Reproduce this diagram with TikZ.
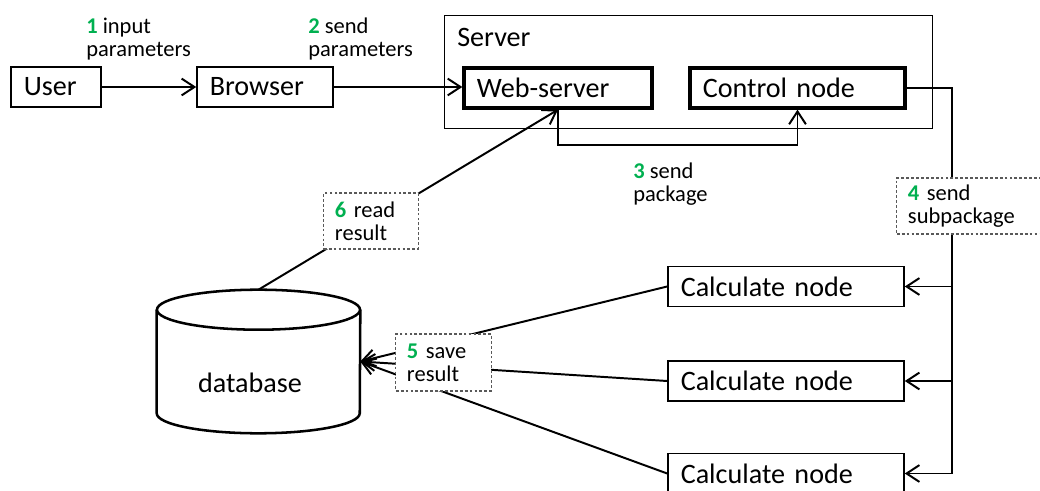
\documentclass[tikz,border=0pt]{standalone}
\usepackage{fontspec}
\setmainfont{Carlito}
\usepackage{xcolor}
\usepackage{tikz}
\usetikzlibrary{positioning,calc,arrows.meta}
\definecolor{stepgreen}{HTML}{00B050}

\tikzset{
    blk/.style={draw, line width=1.1pt, minimum height=1cm, inner xsep=0.32cm, align=left, font=\fontsize{20}{24}\selectfont},
    bold blk/.style={blk, line width=2.4pt},
    tag/.style={draw=black!65, dash pattern=on 2pt off 1.5pt, line width=0.8pt, fill=white, align=left, inner xsep=0.28cm, minimum height=1.4cm, font=\fontsize{16}{16.5}\selectfont},
    note/.style={anchor=west, align=left, inner sep=0pt, font=\fontsize{16}{16.5}\selectfont},
    arr/.style={-{Straight Barb[length=3.2mm,width=4.2mm]}, line width=1.4pt},
    wire/.style={line width=1.4pt}
}

\begin{document}
\begin{tikzpicture}[x=0.025cm, y=-0.025cm]
    \useasboundingbox (0,0) rectangle (1040,491);

    % Server frame
    \node[draw, line width=0.7pt, minimum width=12.175cm, minimum height=2.8cm] (Server) at (688.5,72) {};
    \node[anchor=west, inner sep=0pt, font=\fontsize{20}{24}\selectfont] (ServerName) at (457,37) {Server};

    % Top row
    \node[blk, text width=1.61cm] (User) at (56,87) {User};
    \node[blk, text width=2.76cm] (Browser) at (265,87) {Browser};
    \node[bold blk, text width=4.06cm] (Web) at (558,88) {Web-server};
    \node[bold blk, text width=4.735cm] (Ctrl) at (797.5,88) {Control node};

    % Calculate nodes
    \node[blk, text width=5.26cm] (Calc1) at (786,286.5) {Calculate node};
    \node[blk, text width=5.26cm] (Calc2) at (786,381) {Calculate node};
    \node[blk, text width=5.26cm] (Calc3) at (786,473.5) {Calculate node};
    \coordinate (Bus) at (952,473.5);

    % Database
    \node[minimum width=5.075cm, minimum height=3.575cm, inner sep=0pt] (DB) at (258.5,361.5) {};
    \draw[line width=1.8pt] ($(DB.north)+(0,20)$) ellipse [x radius=2.5375cm, y radius=0.5cm];
    \draw[line width=1.8pt] ($(DB.north west)+(0,20)$) -- ($(DB.south west)+(0,-20)$)
        arc[start angle=180, end angle=360, x radius=2.5375cm, y radius=0.5cm] -- ($(DB.north east)+(0,20)$);
    \node[font=\fontsize{20}{24}\selectfont] (DBName) at (250,383) {database};

    % Connections
    \draw[arr] (User) -- (Browser);
    \draw[arr] (Browser.east) -- (Browser.east -| Web.west);
    \draw[arr] (Web.south) -- ++(0,35) -| (Ctrl.south);
    \draw[wire] (Ctrl.east) -| (Bus);
    \foreach \c in {Calc1,Calc2,Calc3}
        \draw[arr] (\c.east -| Bus) -- (\c.east);
    \foreach \c in {Calc1,Calc2,Calc3}
        \draw[arr] (\c.west) -- (DB.east);
    \draw[arr] (DB.north) -- (Web.south);

    % Step labels
    \node[note] (Input) at (86,39) {\textcolor{stepgreen}{\textbf{1}} input\\parameters};
    \node[note] (Send) at (308,39) {\textcolor{stepgreen}{\textbf{2}} send\\parameters};
    \node[note] (Package) at (633,184) {\textcolor{stepgreen}{\textbf{3}} send\\package};
    \node[tag, text width=3.075cm] (Sub) at (969.5,206) {\textcolor{stepgreen}{\textbf{4}} send\\subpackage};
    \node[tag, text width=1.825cm, minimum height=1.425cm] (Save) at (443.5,362.5) {\textcolor{stepgreen}{\textbf{5}} save\\result};
    \node[tag, text width=1.8cm] (Read) at (371,221) {\textcolor{stepgreen}{\textbf{6}} read\\result};

\end{tikzpicture}
\end{document}
